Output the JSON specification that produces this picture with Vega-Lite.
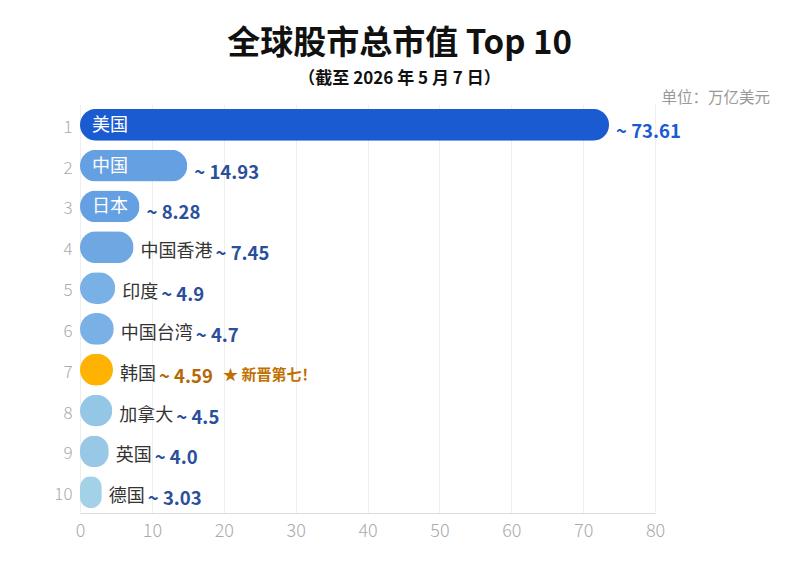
{
  "$schema": "https://vega.github.io/schema/vega-lite/v6.json",
  "autosize": "none",
  "padding": {"left": 80, "top": 104, "right": 145, "bottom": 53},
  "width": 575,
  "height": 409,
  "background": "white",
  "title": {
    "text": "全球股市总市值 Top 10",
    "subtitle": "（截至 2026 年 5 月 7 日）",
    "anchor": "middle",
    "frame": "group",
    "dx": 32,
    "offset": 4,
    "font": "Noto Sans CJK SC",
    "fontSize": 33,
    "fontWeight": "bold",
    "color": "#111111",
    "subtitleFont": "Noto Sans CJK SC",
    "subtitleFontSize": 17,
    "subtitleFontWeight": "bold",
    "subtitleColor": "#111111",
    "subtitlePadding": 10
  },
  "config": {
    "view": {"stroke": null},
    "font": "Noto Sans CJK SC"
  },
  "data": {
    "values": [
      {"rank": 1, "name": "美国", "value": 73.61, "label": "~ 73.61"},
      {"rank": 2, "name": "中国", "value": 14.93, "label": "~ 14.93"},
      {"rank": 3, "name": "日本", "value": 8.28, "label": "~ 8.28"},
      {"rank": 4, "name": "中国香港", "value": 7.45, "label": "~ 7.45"},
      {"rank": 5, "name": "印度", "value": 4.9, "label": "~ 4.9"},
      {"rank": 6, "name": "中国台湾", "value": 4.7, "label": "~ 4.7"},
      {"rank": 7, "name": "韩国", "value": 4.59, "label": "~ 4.59", "note": "★ 新晋第七！"},
      {"rank": 8, "name": "加拿大", "value": 4.5, "label": "~ 4.5"},
      {"rank": 9, "name": "英国", "value": 4.0, "label": "~ 4.0"},
      {"rank": 10, "name": "德国", "value": 3.03, "label": "~ 3.03"}
    ]
  },
  "encoding": {
    "y": {
      "field": "rank",
      "type": "ordinal",
      "sort": "ascending",
      "scale": {"paddingInner": 0.22, "paddingOuter": 0.12},
      "axis": {
        "title": null,
        "domain": false,
        "ticks": false,
        "labelPadding": 8,
        "labelOffset": 3,
        "labelColor": "#aaaaaa",
        "labelFontSize": 17,
        "labelFontWeight": 300
      }
    }
  },
  "layer": [
    {
      "mark": {"type": "bar", "cornerRadius": 16},
      "encoding": {
        "x": {
          "field": "value",
          "type": "quantitative",
          "scale": {"domain": [0, 80]},
          "axis": {
            "title": null,
            "values": [0, 10, 20, 30, 40, 50, 60, 70, 80],
            "ticks": false,
            "labelFlush": false,
            "domainColor": "#dddddd",
            "gridColor": "#eeeeee",
            "labelColor": "#aaaaaa",
            "labelFontSize": 18,
            "labelFontWeight": 300,
            "labelPadding": 9
          }
        },
        "color": {
          "field": "name",
          "type": "nominal",
          "legend": null,
          "scale": {
            "domain": ["美国", "中国", "日本", "中国香港", "印度", "中国台湾", "韩国", "加拿大", "英国", "德国"],
            "range": ["#1a5bd1", "#65a0e3", "#65a0e3", "#6fa7e3", "#79b0e5", "#79b0e5", "#ffb300", "#94c7e6", "#98c8e6", "#a3d2e8"]
          }
        }
      }
    },
    {
      "transform": [{"filter": "datum.rank <= 3"}],
      "mark": {"type": "text", "align": "left", "dx": 12, "dy": 1, "fontSize": 18, "color": "white"},
      "encoding": {
        "x": {"datum": 0},
        "text": {"field": "name"}
      }
    },
    {
      "transform": [{"filter": "datum.rank > 3"}],
      "mark": {"type": "text", "align": "left", "dx": 7, "dy": 5, "fontSize": 18, "color": "#333333"},
      "encoding": {
        "x": {"field": "value", "type": "quantitative"},
        "text": {"field": "name"}
      }
    },
    {
      "mark": {
        "type": "text",
        "align": "left",
        "dx": {"expr": "datum.rank > 3 ? 10 + 18 * length(datum.name) : 7"},
        "dy": 7,
        "fontSize": 18.5,
        "fontWeight": "bold"
      },
      "encoding": {
        "x": {"field": "value", "type": "quantitative"},
        "text": {"field": "label"},
        "color": {
          "condition": [
            {"test": "datum.rank === 1", "value": "#1a5bd1"},
            {"test": "datum.rank === 7", "value": "#b5680a"}
          ],
          "value": "#2a4f9c"
        }
      }
    },
    {
      "transform": [{"filter": "isValid(datum.note)"}],
      "mark": {"type": "text", "align": "left", "dx": 110, "dy": 5, "fontSize": 15, "fontWeight": "bold", "color": "#c07000"},
      "encoding": {
        "x": {"field": "value", "type": "quantitative"},
        "text": {"field": "note"}
      }
    },
    {
      "data": {"values": [{"unit": "单位：万亿美元"}]},
      "mark": {"type": "text", "align": "right", "dx": 115, "dy": -27, "fontSize": 15.5, "color": "#999999"},
      "encoding": {
        "x": {"datum": 80},
        "y": {"datum": 1},
        "text": {"field": "unit"}
      }
    }
  ]
}
